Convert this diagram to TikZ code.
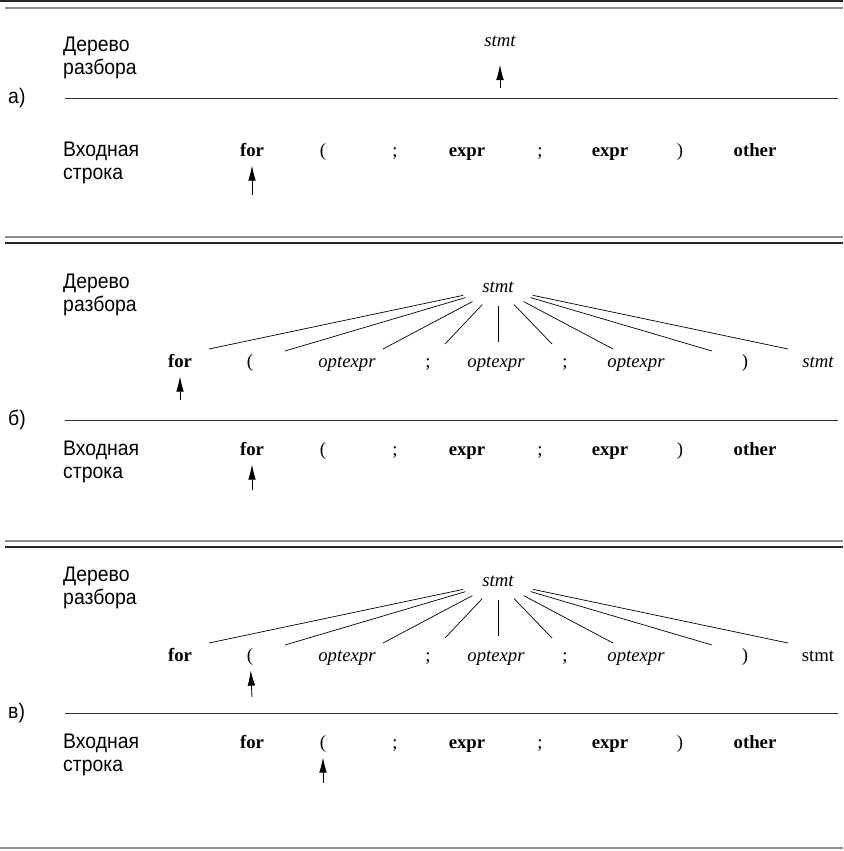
\documentclass[tikz,border=0pt]{standalone}
\usepackage{fontspec}
\setmainfont{Liberation Serif}
\setsansfont[FakeStretch=0.92]{Liberation Sans}
\usetikzlibrary{arrows.meta,shapes.geometric}

\tikzset{
  txt/.style={font=\sffamily\fontsize{18}{19.5}\selectfont, align=left, anchor=west, inner sep=0pt},
  tok/.style={font=\fontsize{16}{19}\selectfont, text height=11pt, text depth=3.5pt, inner sep=1pt},
  kw/.style={tok, font=\bfseries\fontsize{16}{19}\selectfont},
  nt/.style={tok, font=\itshape\fontsize{16}{19}\selectfont},
  treeroot/.style={nt, ellipse, minimum width=2.28cm, minimum height=1.08cm, inner sep=0pt},
  ptr/.style={-{Latex[length=13pt, width=6.5pt]}, line width=.7pt, shorten >=3pt},
  divider/.style={draw=black!80, line width=.8pt},
  dkrule/.style={draw=black!85, line width=1pt},
  grrule/.style={draw=black!45, line width=2pt},
}

\begin{document}
\begin{tikzpicture}[x=0.03cm, y=-0.03cm]
\useasboundingbox (0,0) rectangle (843,851);

% double rules between the three panels
\draw[dkrule] (0,1) -- (843,1);
\draw[grrule] (5,8) -- (843,8);
\draw[grrule] (5,237) -- (843,237);
\draw[dkrule] (5,243) -- (843,243);
\draw[grrule] (5,541) -- (843,541);
\draw[dkrule] (5,547) -- (843,547);
\draw[grrule] (0,848) -- (843,848);

% labels on the left and the line between tree and input
\foreach \s/\t/\y/\l in {a/58/98/а), b/295/420/б), c/588/713/в)} {
  \node[txt] (tree\s) at (63,\t) {Дерево\\разбора};
  \node[txt] (lab\s) at (8,\y) {\l};
  \draw[divider] (65,\y) -- (838,\y);
}

% input string, the same in every panel
\foreach \s/\y in {a/152, b/451, c/744} {
  \node[txt] (in\s) at (63,\y+11) {Входная\\строка};
  \foreach \t/\x/\st [count=\i] in {for/252/kw, {(}/323/tok, ;/395/tok, expr/467/kw,
      ;/540/tok, expr/610/kw, {)}/680/tok, other/755/kw}
    \node[\st] (\s\i) at (\x,\y) {\t};
}

% panel a: only the root
\node[nt] (ra) at (500,42) {stmt};
\coordinate (pra) at (500,88);
\draw[ptr, shorten >=11pt] (pra) -- (ra);

% panels b and c: root with its children
\foreach \s/\y/\last in {b/288/nt, c/582/tok} {
  \node[treeroot] (r\s) at (498,\y) {stmt};
  \foreach \t/\x/\st [count=\i] in {for/180/kw, {(}/250/tok, optexpr/347/nt, ;/428/tok,
      optexpr/496/nt, ;/565/tok, optexpr/636/nt, {)}/745/tok, stmt/818/\last}
    \node[\st] (t\s\i) at (\x,\y+75) {\t};
  \foreach \dx/\dy [count=\i] in {-289/61, -213/63, -115/61, -53/56, 0/54,
      54/56, 115/61, 214/63, 290/61} {
    \path (r\s.center) ++(\dx,\dy) coordinate (e\s\i);
    \draw[line width=.6pt] (r\s) -- (e\s\i);
  }
}

% pointers
\coordinate (pa) at (252,195);
\draw[ptr] (pa) -- (a1);
\coordinate (ptb) at (180,400);
\draw[ptr] (ptb) -- (tb1);
\coordinate (pb) at (252,490);
\draw[ptr] (pb) -- (b1);
\coordinate (ptc) at (252,697);
\draw[ptr] (ptc) -- (tc2);
\coordinate (pc) at (323,783);
\draw[ptr] (pc) -- (c2);
\end{tikzpicture}
\end{document}
